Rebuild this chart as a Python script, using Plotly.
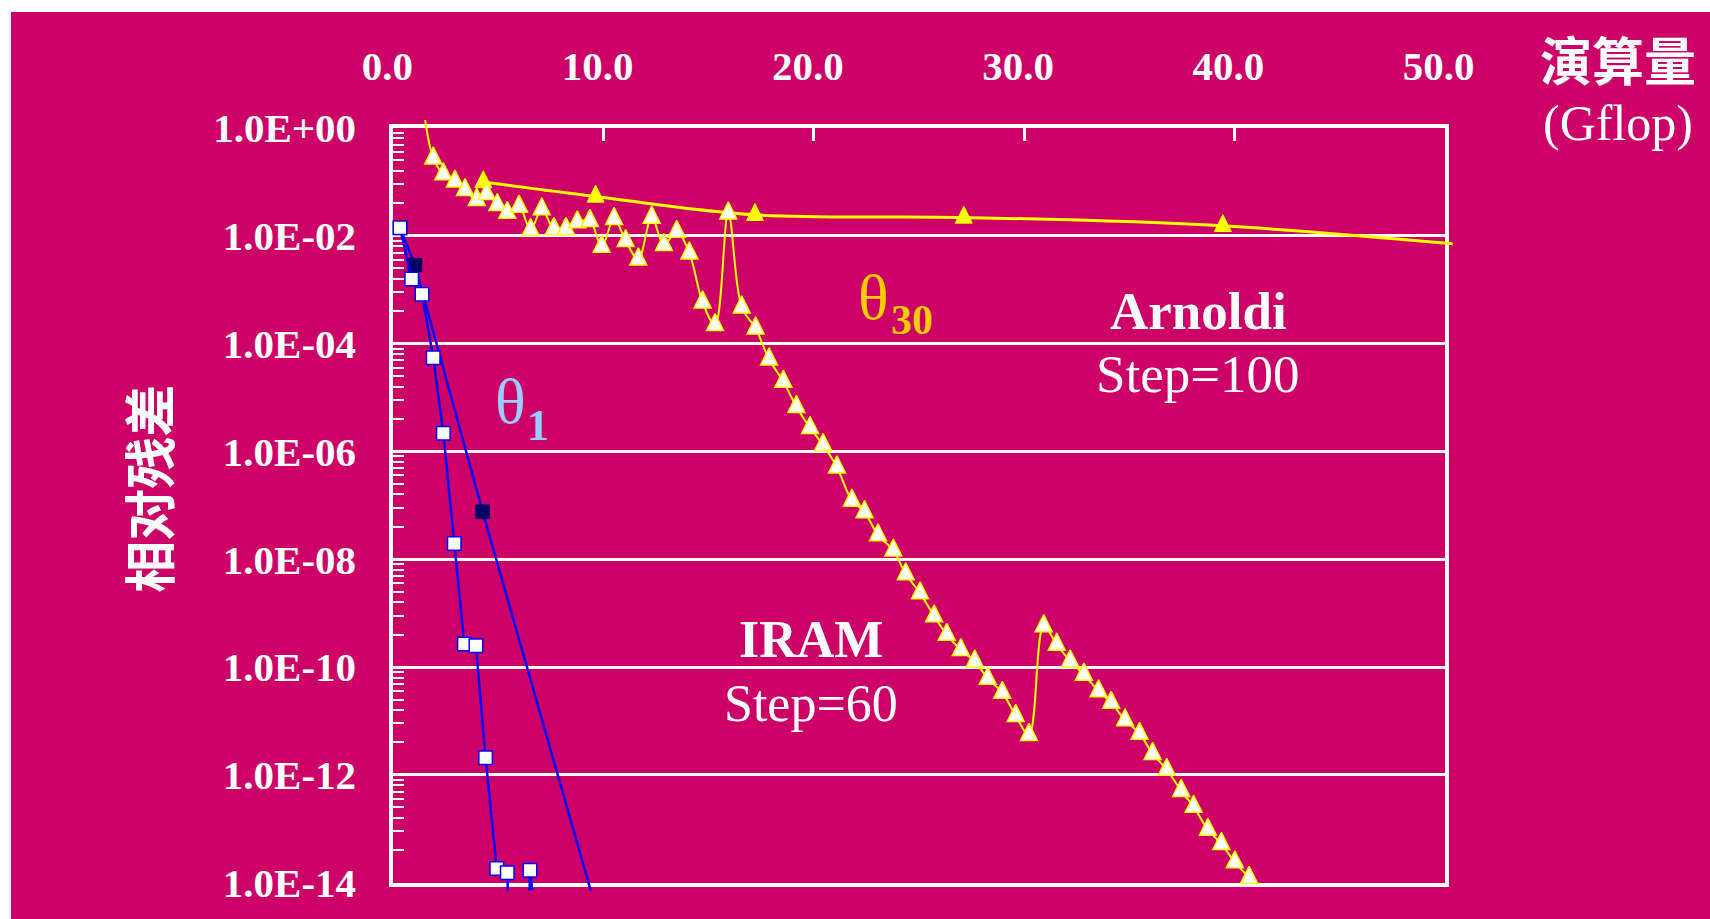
import plotly.graph_objects as go

W, H = 1710, 919
BG = "#CC0066"

# ---------------- data ----------------
x_tick_vals = [0, 10, 20, 30, 40, 50]
x_tick_text = ["0.0", "10.0", "20.0", "30.0", "40.0", "50.0"]
y_tick_vals = [1e0, 1e-2, 1e-4, 1e-6, 1e-8, 1e-10, 1e-12, 1e-14]
y_tick_text = ["1.0E+00", "1.0E-02", "1.0E-04", "1.0E-06",
               "1.0E-08", "1.0E-10", "1.0E-12", "1.0E-14"]

# theta_30, IRAM (step=60)
iram30_x = [1.40, 1.90, 2.38, 2.93, 3.41, 3.97, 4.44, 4.95, 5.42, 5.98,
            6.53, 7.06, 7.64, 8.21, 8.75, 9.35, 9.91, 10.50, 11.05, 11.65,
            12.29, 12.87, 13.48, 14.08, 14.71, 15.30, 15.93, 16.57, 17.23, 17.87,
            18.55, 19.17, 19.82, 20.44, 21.10, 21.81, 22.41, 23.05, 23.78, 24.37,
            25.05, 25.72, 26.32, 26.99, 27.65, 28.27, 28.96, 29.60, 30.23, 30.93,
            31.55, 32.19, 32.84, 33.54, 34.14, 34.80, 35.49, 36.11, 36.78, 37.47,
            38.06, 38.74, 39.38, 40.02, 40.70]
iram30_y = [3.0, 0.275, 0.139, 0.102, 0.0713, 0.0466, 0.0601, 0.0376, 0.0270, 0.0350,
            0.0129, 0.0312, 0.0135, 0.0135, 0.0179, 0.0190, 0.00632, 0.0207, 0.00807, 0.00368,
            0.0219, 0.00681, 0.0120, 0.00475, 5.86e-4, 2.23e-4, 0.0262, 4.73e-4, 1.93e-4, 5.13e-5,
            1.98e-5, 6.75e-6, 2.74e-6, 1.32e-6, 5.09e-7, 1.23e-7, 7.52e-8, 2.81e-8, 1.46e-8, 5.31e-9,
            2.35e-9, 8.79e-10, 4.01e-10, 2.08e-10, 1.28e-10, 6.12e-11, 3.35e-11, 1.25e-11, 5.55e-12, 5.77e-10,
            2.62e-10, 1.29e-10, 7.29e-11, 3.59e-11, 2.19e-11, 1.04e-11, 5.81e-12, 2.47e-12, 1.25e-12, 5.07e-13,
            2.57e-13, 9.62e-14, 5.27e-14, 2.40e-14, 1.24e-14]

# theta_30, Arnoldi (step=100)
arn30_x = [4.28, 9.62, 17.20, 27.13, 39.45, 54.0]
arn30_y = [0.0995, 0.0536, 0.0245, 0.0219, 0.0153, 0.0053]

# theta_1, IRAM (step=60)
iram1_x = [0.32, 0.875, 1.365, 1.90, 2.38, 2.90, 3.38, 3.93, 4.39, 4.92,
           5.42, 5.60, 6.40, 6.50, 7.14]
iram1_y = [1.41e-2, 1.58e-3, 8.22e-4, 5.47e-5, 2.17e-6, 1.97e-8, 2.67e-10, 2.48e-10, 2.07e-12, 1.84e-14,
           1.53e-14, 1e-16, 1e-16, 1.71e-14, 1e-16]

# theta_1, Arnoldi (step=100)
arn1_x = [0.32, 1.03, 4.25, 9.62]
arn1_y = [1.41e-2, 2.87e-3, 7.60e-8, 3.47e-15]

# ---------------- layout geometry (pixels) ----------------
PL, PR, PT, PB = 393.3, 1444.7, 128.0, 882.7   # inner plot box
EXT = 8.0                                       # lines may overhang the box by this much
X0, X1 = 0.0, 50.0
Y0, Y1 = -14.0, 0.0
ux = (X1 - X0) / (PR - PL)
uy = (Y1 - Y0) / (PB - PT)

minor_vals = [10 ** (-2 * k - 2) * i * i for k in range(7) for i in range(2, 10)]

TICKFONT = dict(family="Liberation Serif", size=41, color="white", weight="bold")

fig = go.Figure()

# empty trace so that the framed (x, y) subplot with grid, ticks and labels is drawn
fig.add_trace(go.Scatter(x=[None], y=[None], xaxis="x", yaxis="y", mode="lines",
                         hoverinfo="skip", showlegend=False))

common = dict(xaxis="x2", yaxis="y2", mode="lines+markers", cliponaxis=True, hoverinfo="skip")

fig.add_trace(go.Scatter(
    x=arn1_x, y=arn1_y, **common,
    line=dict(color="#0000FF", width=2.5),
    marker=dict(symbol="square", size=14, color="#000066", line=dict(color="#000066", width=0.5))))
fig.add_trace(go.Scatter(
    x=iram1_x, y=iram1_y, **common,
    line=dict(color="#0000FF", width=2.5),
    marker=dict(symbol="square", size=13.5, color="white", line=dict(color="#0000FF", width=1.5))))

TRI = 17
fig.add_trace(go.Scatter(
    x=arn30_x, y=arn30_y, **common,
    line=dict(color="#FFFF00", width=3, shape="spline", smoothing=1),
    marker=dict(symbol="arrow-down", angle=180, standoff=TRI * 2 / 3, size=TRI,
                color="#FFFF00", line=dict(color="#FFFF00", width=1))))
fig.add_trace(go.Scatter(
    x=iram30_x, y=iram30_y, **common,
    line=dict(color="#FFFF00", width=2, shape="spline", smoothing=1),
    marker=dict(symbol="arrow-down", angle=180, standoff=TRI * 2 / 3, size=TRI,
                color="white", line=dict(color="#FFFF00", width=1.5))))


def ann(text, px, py, size, color="white", family="Liberation Serif", bold=False, angle=0):
    return dict(text=text, x=px / W, y=1 - py / H, xref="paper", yref="paper",
                showarrow=False, xanchor="center", yanchor="middle", textangle=angle,
                font=dict(family=family, size=size, color=color,
                          weight="bold" if bold else "normal"))


CJK = "Noto Sans CJK SC"
annotations = [
    ann("演算量", 1618, 59, 52, family=CJK, bold=True),
    ann("(Gflop)", 1618, 123, 50),
    ann("相对残差", 146.7, 489, 52, family=CJK, bold=True, angle=-90),
    ann("Arnoldi", 1198.6, 311, 53, bold=True),
    ann("Step=100", 1198, 374, 53),
    ann("IRAM", 811, 639, 52, bold=True),
    ann("Step=60", 811.3, 703.5, 52),
    ann("θ", 873, 297.4, 64, color="#FFCC00"),
    ann("30", 911.7, 319.8, 42, color="#FFCC00", bold=True),
    ann("θ", 510.8, 401.4, 64, color="#99CCFF"),
    ann("1", 538.3, 425, 44, color="#99CCFF", bold=True),
]

shapes = [
    dict(type="rect", xref="paper", yref="paper", x0=0, x1=1, y0=1 - 12 / H, y1=1,
         fillcolor="white", line=dict(width=0), layer="below"),
    dict(type="rect", xref="paper", yref="paper", x0=0, x1=11 / W, y0=0, y1=1,
         fillcolor="white", line=dict(width=0), layer="below"),
]

fig.update_layout(
    width=W, height=H, margin=dict(l=0, r=0, t=0, b=0, pad=0, autoexpand=False),
    paper_bgcolor=BG, plot_bgcolor="rgba(0,0,0,0)", showlegend=False,
    annotations=annotations, shapes=shapes,
    xaxis=dict(domain=[PL / W, PR / W], range=[X0, X1], anchor="y", side="top",
               tickmode="array", tickvals=x_tick_vals, ticktext=x_tick_text,
               ticks="inside", ticklen=13, tickwidth=3, tickcolor="white",
               showline=True, linewidth=4, linecolor="white", mirror=True,
               showgrid=False, zeroline=False, tickfont=TICKFONT, automargin=False,
               ticklabelstandoff=28, ticklabelshift=-6, fixedrange=True),
    yaxis=dict(domain=[1 - PB / H, 1 - PT / H], type="log", range=[Y0, Y1], anchor="x",
               tickmode="array", tickvals=y_tick_vals, ticktext=y_tick_text, ticks="",
               showline=True, linewidth=4, linecolor="white", mirror=True,
               showgrid=True, gridcolor="white", gridwidth=2.5, zeroline=False,
               tickfont=TICKFONT, ticklabelstandoff=25, fixedrange=True, automargin=False,
               minor=dict(tickmode="array", tickvals=minor_vals, ticks="inside", ticklen=11,
                          tickwidth=2, tickcolor="white", showgrid=False)),
    xaxis2=dict(domain=[(PL - EXT) / W, (PR + EXT) / W], automargin=False,
                range=[X0 - EXT * ux, X1 + EXT * ux], anchor="y2", visible=False, fixedrange=True),
    yaxis2=dict(domain=[1 - (PB + EXT) / H, 1 - (PT - EXT) / H], type="log", automargin=False,
                range=[Y0 - EXT * uy, Y1 + EXT * uy], anchor="x2", visible=False, fixedrange=True),
)

fig.write_html("out.html")
